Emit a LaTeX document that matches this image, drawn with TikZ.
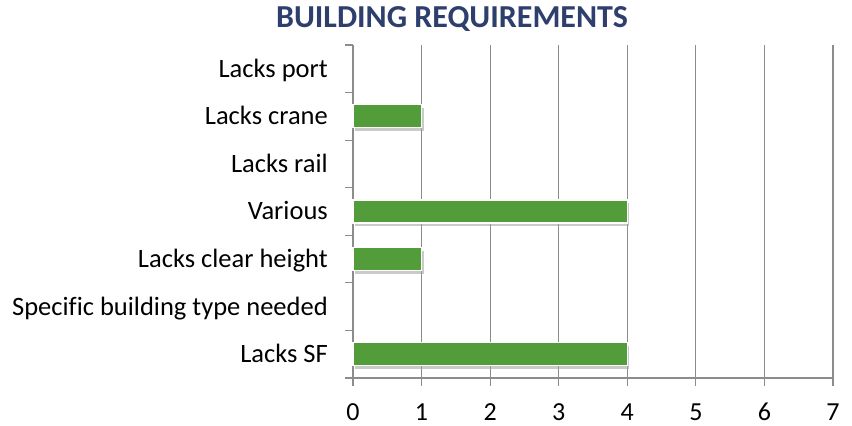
\documentclass[tikz,border=0pt]{standalone}
\usepackage{fontspec}
\setmainfont[Ligatures=NoCommon]{Carlito}
\usetikzlibrary{shadows}
\definecolor{titleblue}{HTML}{2E3F6E}
\definecolor{bargreen}{HTML}{529C3A}
\definecolor{gridgray}{HTML}{8C8C8C}
\tikzset{
  grid/.style={draw=gridgray, line width=1.2pt},
  bar/.style={fill=bargreen, draw=white, line width=1.2pt,
    drop shadow={shadow xshift=2pt, shadow yshift=-3pt, fill=black!35, opacity=0.6}},
  cat/.style={anchor=base east, font=\fontsize{26.5}{30}\selectfont, inner sep=0pt},
  num/.style={anchor=base, font=\fontsize{26}{30}\selectfont, inner sep=0pt},
}
\begin{document}
\begin{tikzpicture}[x=1pt,y=-1pt]
\useasboundingbox (0,0) rectangle (852,426);
% gridlines
\foreach \i in {1,...,7} {
  \draw[grid] ({353+68.57*\i},45) -- ({353+68.57*\i},386);
}
% axes
\draw[grid] (353,45) -- (353,386);
\draw[grid] (353,378) -- (833,378);
\foreach \j in {0,...,7} {
  \draw[grid] (345,{45+47.57*\j}) -- (353,{45+47.57*\j});
}
% bars
\foreach \v/\k in {1/1, 4/3, 1/4, 4/6} {
  \fill[bar] (353,{45+47.57*\k+47.57/2-11.5}) rectangle ({353+68.57*\v},{45+47.57*\k+47.57/2+11.5});
}
% category labels
\node[cat] (c0) at (328,77.2) {Lacks port};
\node[cat] (c1) at (328,124.8) {Lacks crane};
\node[cat] (c2) at (328,172.4) {Lacks rail};
\node[cat] (c3) at (328,219.9) {Various};
\node[cat] (c4) at (328,267.5) {Lacks clear height};
\node[cat] (c5) at (328,315.1) {Specific building type needed};
\node[cat] (c6) at (328,362.7) {Lacks SF};
% numbers
\foreach \i in {0,...,7} {
  \node[num] (n\i) at ({353+68.57*\i},420.5) {\i};
}
% title
\node[font=\bfseries\fontsize{32}{36}\selectfont, text=titleblue, inner sep=0pt, anchor=base] (title) at (452,27) {BUILDING REQUIREMENTS};
\end{tikzpicture}
\end{document}
